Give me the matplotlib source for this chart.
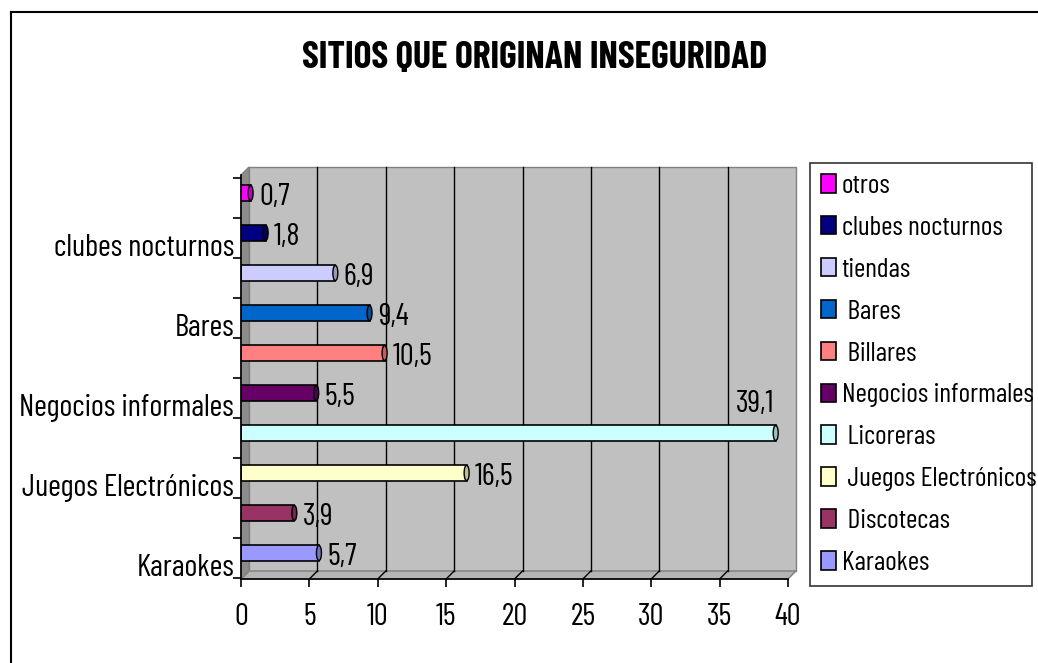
import matplotlib
matplotlib.use('Agg')
import matplotlib.pyplot as plt
import matplotlib.patches as mpatches
from matplotlib.lines import Line2D
from matplotlib.textpath import TextPath
from matplotlib.font_manager import FontProperties
import numpy as np

FAM = ['Barlow Condensed', 'Roboto Condensed', 'Liberation Sans', 'DejaVu Sans']
plt.rcParams['font.family'] = FAM

# data, bottom to top as drawn
categorias = ['Karaokes', 'Discotecas', 'Juegos Electrónicos', 'Licoreras',
              'Negocios informales', 'Billares', 'Bares', 'tiendas',
              'clubes nocturnos', 'otros']
leyenda = ['Karaokes', ' Discotecas', ' Juegos Electrónicos', ' Licoreras',
           'Negocios informales', ' Billares', ' Bares', 'tiendas',
           'clubes nocturnos', 'otros']
valores = [5.7, 3.9, 16.5, 39.1, 5.5, 10.5, 9.4, 6.9, 1.8, 0.7]
etiquetas = ['5,7', '3,9', '16,5', '39,1', '5,5', '10,5', '9,4', '6,9', '1,8', '0,7']
colores = ['#9999FF', '#993366', '#FFFFCC', '#CCFFFF', '#660066',
           '#FF8080', '#0066CC', '#CCCCFF', '#000080', '#FF00FF']
xticks = [0, 5, 10, 15, 20, 25, 30, 35, 40]


def fit_size(s, px, weight='normal'):
    # font size (pt) that makes string s about px pixels wide at dpi 100
    fp = FontProperties(family=FAM, weight=weight)
    w = TextPath((0, 0), s, size=100, prop=fp).get_extents().width
    return 100 * px / (w * 100 / 72)


fs_title = fit_size('SITIOS QUE ORIGINAN INSEGURIDAD', 464, 'bold')
fs_tick = fit_size('Juegos Electrónicos', 211)
fs_leg = fit_size('Negocios informales', 189)

W, H = 1038, 663
fig = plt.figure(figsize=(W / 100, H / 100), dpi=100)

# outer frame, cut at right/bottom as in the screenshot
fig.add_artist(Line2D([11 / W, 11 / W], [0, 1 - 12 / H], color='black', lw=1.5,
                      transform=fig.transFigure))
fig.add_artist(Line2D([11 / W, 1], [1 - 12 / H, 1 - 12 / H], color='black', lw=1.5,
                      transform=fig.transFigure))

left, right, top, bottom = 241, 788, 175, 579
ax = fig.add_axes([left / W, 1 - bottom / H, (right - left) / W, (bottom - top) / H])
ax.set_xlim(0, 40)
ax.set_ylim(-0.65, 9.45)
ax.set_facecolor('none')

# fake 3D box: back wall, floor, left wall
depth = 8
dx = depth / (right - left)
dy = depth / (bottom - top)
back = mpatches.Polygon([(dx, dy), (1 + dx, dy), (1 + dx, 1 + dy), (dx, 1 + dy)],
                        closed=True, transform=ax.transAxes, facecolor='#C0C0C0',
                        edgecolor='#808080', lw=1, clip_on=False, zorder=0)
floor = mpatches.Polygon([(0, 0), (1, 0), (1 + dx, dy), (dx, dy)], closed=True,
                         transform=ax.transAxes, facecolor='#B4B4B4',
                         edgecolor='#808080', lw=1, clip_on=False, zorder=0.5)
wall = mpatches.Polygon([(0, 0), (dx, dy), (dx, 1 + dy), (0, 1)], closed=True,
                        transform=ax.transAxes, facecolor='#8C8C8C',
                        edgecolor='#808080', lw=1, clip_on=False, zorder=0.5)
for p in (back, floor, wall):
    ax.add_patch(p)
for xv in xticks[1:-1]:
    xa = xv / 40
    ax.add_line(Line2D([xa + dx, xa + dx], [dy, 1 + dy], color='black', lw=1,
                       transform=ax.transAxes, clip_on=False, zorder=0.6))
    ax.add_line(Line2D([xa, xa + dx], [0, dy], color='black', lw=1,
                       transform=ax.transAxes, clip_on=False, zorder=0.6))

y = np.arange(len(categorias))
bh = 0.38
bars = ax.barh(y, valores, height=bh, color=colores, edgecolor='black', lw=1.2, zorder=3)

# cylinder end caps
cap_w = 5 / ((right - left) / 40)
for yi, v, c in zip(y, valores, colores):
    rgb = np.array(matplotlib.colors.to_rgb(c)) * 0.75
    ax.add_patch(mpatches.Ellipse((v, yi), cap_w, bh, facecolor=rgb,
                                  edgecolor='black', lw=1, zorder=4))

# value labels
for yi, v, t in zip(y, valores, etiquetas):
    if v > 35:
        ax.annotate(t, (v, yi), xytext=(-15, 21), textcoords='offset points',
                    ha='center', va='center', fontsize=fs_tick, zorder=5)
    else:
        ax.annotate(t, (v, yi), xytext=(6, -3), textcoords='offset points',
                    ha='left', va='center', fontsize=fs_tick, zorder=5)

for s in ('top', 'right'):
    ax.spines[s].set_visible(False)
for s in ('left', 'bottom'):
    ax.spines[s].set_zorder(6)
    ax.spines[s].set_linewidth(1.2)

ax.set_xticks(xticks)
ax.tick_params(axis='x', direction='out', length=6, width=1.2, pad=11, labelsize=fs_tick)
ax.set_yticks(y[::2] - 0.3)
ax.set_yticklabels(categorias[::2])
ax.set_yticks(np.arange(0, 11) - 0.625, minor=True)
ax.tick_params(axis='y', which='major', length=0, pad=5, labelsize=fs_tick)
ax.tick_params(axis='y', which='minor', direction='out', length=6, width=1.2)

fig.text(535 / W, 1 - 58 / H, 'SITIOS QUE ORIGINAN INSEGURIDAD', ha='center',
         va='center', fontsize=fs_title, fontweight='bold')

# legend: tune the row spacing until the box is ~423 px high
ls = 0.5
for _ in range(3):
    leg = fig.legend(bars[::-1], leyenda[::-1], loc='upper left',
                     bbox_to_anchor=(810 / W, 1 - 586 / H, 222 / W, 423 / H), mode='expand',
                     frameon=True, fancybox=False, edgecolor='black', fontsize=fs_leg,
                     handlelength=0.55, handleheight=0.65, handletextpad=0.2,
                     labelspacing=ls, borderpad=0.4, borderaxespad=0)
    leg.get_frame().set_linewidth(1.2)
    fig.canvas.draw()
    h = leg.get_window_extent().height
    if abs(h - 423) < 1:
        break
    ls += (423 - h) / (9 * fs_leg * 100 / 72)
    leg.remove()

fig.savefig('out.png', dpi=100)
